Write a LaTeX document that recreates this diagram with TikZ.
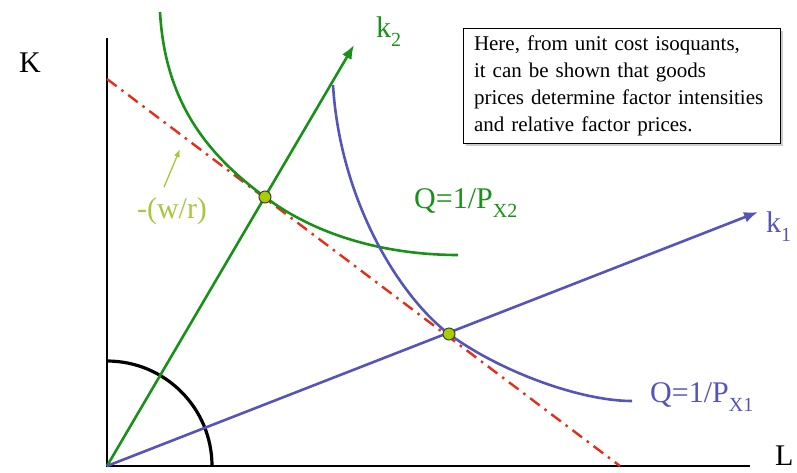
\documentclass[tikz,border=0pt]{standalone}
\usepackage{fontspec}
\setmainfont{Liberation Serif}
\usetikzlibrary{arrows.meta, positioning, shadows}

\definecolor{isogreen}{RGB}{25,145,25}
\definecolor{isoblue}{RGB}{85,85,185}
\definecolor{budgetred}{RGB}{230,45,25}
\definecolor{wrgreen}{RGB}{165,200,60}
\definecolor{dotfill}{RGB}{170,205,0}

\newcommand{\dropsub}[1]{\raisebox{-0.3em}{\fontsize{20}{20}\selectfont #1}}

\begin{document}
\begin{tikzpicture}[
    x=1pt, y=-1pt,
    axis/.style={line width=2.2pt, black},
    ray/.style={line width=2.6pt, -{Latex[length=14pt,width=11pt]}},
    iso/.style={line width=2.6pt},
    budget/.style={line width=2.4pt, budgetred, dash pattern=on 12pt off 6pt on 2.5pt off 6pt},
    lab/.style={inner sep=0pt, font=\fontsize{30}{34}\selectfont},
    dot/.style={circle, draw=black!75, line width=1pt, fill=dotfill, minimum size=12pt, inner sep=0pt},
    note/.style={rectangle, draw, line width=1pt, fill=white, minimum width=317pt, minimum height=115pt,
        text width=295pt, align=left, font=\fontsize{21}{27}\selectfont,
        drop shadow={shadow xshift=3pt, shadow yshift=-3pt, fill=black!40}}
]
    \useasboundingbox (0,0) rectangle (797,472);

    % axes
    \coordinate (origin) at (107,466);
    \coordinate (ktop) at (107,38);
    \coordinate (lend) at (750,466);
    \draw [axis] (ktop) -- (origin) -- (lend);
    \node (klab) [lab] at (30,63) {K};
    \node (llab) [lab, anchor=west] at (775,456) {L};

    % angle arc
    \draw [line width=3.2pt] ([yshift=105pt]origin) arc[start angle=90, end angle=0, radius=105pt];

    % budget line
    \coordinate (wr1) at (107,79);
    \coordinate (wr2) at (620,466);
    \draw [budget] (wr1) -- (wr2);

    % tangency points
    \coordinate (tan2) at (265,197);
    \coordinate (tan1) at (449,334);

    % factor intensity rays
    \coordinate (k2tip) at (354,45);
    \coordinate (k1tip) at (758,212);
    \draw [ray, isogreen] (origin) -- (k2tip);
    \draw [ray, isoblue] (origin) -- (k1tip);
    \node (k2lab) [lab, anchor=west, isogreen] at (376,32) {k\dropsub{2}};
    \node (k1lab) [lab, anchor=west, isoblue] at (766,227) {k\dropsub{1}};

    % isoquants
    \coordinate (g0) at (160,12);
    \coordinate (g1) at (458,255);
    \draw [iso, isogreen] (g0) .. controls (165,100) and (205,153) .. (tan2)
        .. controls (325,242) and (400,255) .. (g1);
    \coordinate (b0) at (333,85);
    \coordinate (b1) at (632,401);
    \draw [iso, isoblue] (b0) .. controls (340,200) and (399,296) .. (tan1)
        .. controls (499,371) and (580,401) .. (b1);

    \node (q2lab) [lab, anchor=west, isogreen] at (414,203) {Q=1/P\dropsub{X2}};
    \node (q1lab) [lab, anchor=west, isoblue] at (650,397) {Q=1/P\dropsub{X1}};

    % slope label
    \node (wrlab) [lab, wrgreen] at (172,211) {-(w/r)};
    \coordinate (wrhead) at (180,149);
    \draw [wrgreen, line width=1.3pt, -{Latex[length=8pt,width=6pt]}] ([xshift=-8pt, yshift=10pt]wrlab.north) -- (wrhead);

    \node (d2) [dot] at (tan2) {};
    \node (d1) [dot] at (tan1) {};

    % note
    \node (note) [note] at (621.5,85.5) {Here, from unit cost isoquants,\\ it can be shown that goods\\ prices determine factor intensities\\ and relative factor prices.};
\end{tikzpicture}
\end{document}
